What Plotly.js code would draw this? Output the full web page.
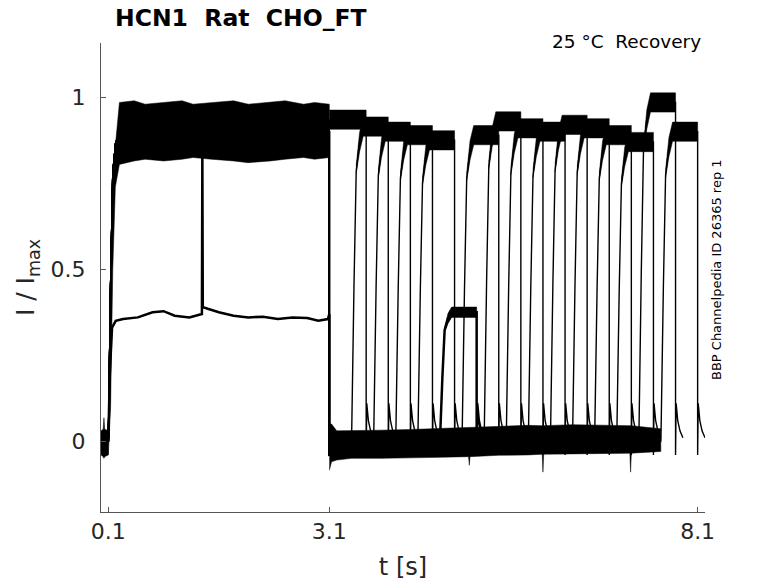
<!DOCTYPE html>
<html>
<head>
<meta charset="utf-8">
<script src="https://cdn.plot.ly/plotly-3.0.1.min.js"></script>
<style>
  html, body { margin: 0; padding: 0; background: #fff; }
  #plot { width: 778px; height: 583px; }
</style>
</head>
<body>
<div id="plot"></div>
<script>
// recovery protocol: 16 sweeps, 3 s activation pulse, then a 0.5 s test pulse at growing intervals
var sweepStart = [3.1, 3.4, 3.7, 4.0, 4.3, 4.6, 4.9, 5.2, 5.5, 5.8, 6.1, 6.4, 6.7, 7.0, 7.3, 7.6];
var sweepEnd   = [3.6, 3.9, 4.2, 4.5, 4.8, 5.1, 5.4, 5.7, 6.0, 6.3, 6.6, 6.9, 7.2, 7.5, 7.8, 8.1];
var testLevel  = [0.935, 0.915, 0.9, 0.89, 0.875, 0.375, 0.89, 0.93, 0.91, 0.9, 0.92, 0.91, 0.89, 0.87, 0.985, 0.9];
var testSpread = [0.028, 0.028, 0.028, 0.028, 0.028, 0.015, 0.028, 0.028, 0.028, 0.028, 0.028, 0.028, 0.028, 0.028, 0.028, 0.028];
var lowSweep = 5;

// activation pulse, mean path of the normal sweeps
var activationT = [0, 0.1, 0.13, 0.16, 0.2, 0.3, 3.1];
var activationY = [0, 0, 0.45, 0.78, 0.87, 0.9, 0.9];

// the sweep that only reached ~0.36
var lowSweepT = [0, 0.1, 0.12, 0.15, 0.2, 0.3, 0.5, 0.7, 0.85, 1.0, 1.2, 1.37, 1.376, 1.382, 1.45, 1.6, 1.8, 2.0, 2.2, 2.4, 2.6, 2.8, 2.95, 3.08, 3.1];
var lowSweepY = [0, 0.01, 0.2, 0.33, 0.35, 0.355, 0.36, 0.375, 0.378, 0.365, 0.36, 0.37, 0.84, 0.39, 0.385, 0.375, 0.365, 0.36, 0.362, 0.355, 0.36, 0.358, 0.35, 0.355, 0.37];

// shape of a test-pulse rise and of the tail after it
var riseDt   = [0, 0.005, 0.035, 0.065, 0.11, 0.16, 0.3];
var riseFrac = [0, 0.05, 0.5, 0.86, 0.95, 0.98, 1.0];
var tailDt = [0, 0.008, 0.03, 0.06, 0.1];
var tailY  = [-0.04, 0.11, 0.06, 0.03, 0.01];

// noise envelopes
var baseT  = [0, 0.03, 0.04, 0.05, 0.1];
var baseHi = [0.03, 0.035, 0.068, 0.035, 0.03];
var baseLo = [-0.04, -0.045, -0.05, -0.045, -0.04];

var pulseT  = [0.1, 0.13, 0.16, 0.195, 0.25, 0.45, 0.6, 0.85, 1.1, 1.25, 1.5, 1.8, 2.0, 2.3, 2.5, 2.75, 2.9, 3.1];
var pulseHi = [0.03, 0.4, 0.72, 0.86, 0.985, 0.99, 0.98, 0.985, 0.99, 0.98, 0.985, 0.99, 0.98, 0.985, 0.99, 0.98, 0.985, 0.98];
var pulseLo = [-0.04, 0.1, 0.5, 0.74, 0.805, 0.815, 0.82, 0.815, 0.82, 0.825, 0.82, 0.815, 0.81, 0.815, 0.82, 0.825, 0.82, 0.825];

var zeroT  = [3.1, 3.13, 3.2, 3.4, 3.8, 4.2, 4.6, 4.99, 5.0, 5.01, 5.4, 5.8, 5.99, 6.0, 6.01, 6.4, 6.8, 7.18, 7.19, 7.2, 7.6];
var zeroHi = [0.05, 0.05, 0.03, 0.03, 0.032, 0.034, 0.037, 0.04, 0.04, 0.04, 0.043, 0.046, 0.045, 0.045, 0.045, 0.048, 0.047, 0.045, 0.045, 0.045, 0.036];
var zeroLo = [-0.085, -0.06, -0.055, -0.05, -0.05, -0.049, -0.047, -0.045, -0.07, -0.045, -0.041, -0.04, -0.038, -0.09, -0.038, -0.037, -0.035, -0.035, -0.09, -0.035, -0.03];

var xTicks = [0.1, 3.1, 8.1];
var yTicks = [0, 0.5, 1];

function band(xs, hi, lo) {
  return {
    x: xs.concat(xs.slice().reverse()),
    y: hi.concat(lo.slice().reverse()),
    type: 'scatter', mode: 'lines', fill: 'toself',
    fillcolor: '#000', line: {color: '#000', width: 0.5},
    hoverinfo: 'skip', showlegend: false
  };
}

function sweepPath(k) {
  var x = k === lowSweep ? lowSweepT.slice() : activationT.slice();
  var y = k === lowSweep ? lowSweepY.slice() : activationY.slice();
  var s = sweepStart[k], e = sweepEnd[k], L = testLevel[k];
  if (s > 3.1) {
    x.push(3.1, s); y.push(-0.04, 0);
    riseDt.forEach(function (d, i) { x.push(s + d); y.push(L * riseFrac[i]); });
  } else {
    x.push(s); y.push(L);
  }
  x.push(e); y.push(L);
  tailDt.forEach(function (d, i) { x.push(e + d); y.push(tailY[i]); });
  return {
    x: x, y: y, type: 'scatter', mode: 'lines',
    line: {color: '#000', width: k === lowSweep ? 2.5 : 1.4},
    hoverinfo: 'skip', showlegend: false
  };
}

var data = [band(baseT, baseHi, baseLo), band(pulseT, pulseHi, pulseLo), band(zeroT, zeroHi, zeroLo)];
sweepStart.forEach(function (s, k) {
  var L = testLevel[k], h = testSpread[k], e = sweepEnd[k];
  if (s > 3.1) {
    // noise band follows the top of the rise, then the plateau
    data.push(band([s + 0.065, s + 0.11, s + 0.16, e],
      [L * riseFrac[3] + h * 0.5, L * riseFrac[4] + h, L + h, L + h],
      [L * riseFrac[3] - h * 0.3, L * riseFrac[4] - h, L - h, L - h]));
  } else {
    data.push(band([s, e], [L + h, L + h], [L - h, L - h]));
  }
});
sweepStart.forEach(function (s, k) { data.push(sweepPath(k)); });

var font = 'DejaVu Sans, sans-serif';
var layout = {
  width: 778, height: 583,
  margin: {l: 101, r: 73, t: 43, b: 71},
  paper_bgcolor: '#fff', plot_bgcolor: '#fff',
  showlegend: false,
  title: {
    text: '<b>HCN1\u00a0\u00a0Rat\u00a0\u00a0CHO_FT</b>',
    font: {family: font, size: 23.5, color: '#000'},
    xref: 'container', x: 115 / 778, xanchor: 'left',
    yref: 'container', y: 1 - 18 / 583, yanchor: 'middle'
  },
  xaxis: {
    range: [0, 8.2], tickvals: xTicks, ticktext: xTicks.map(String),
    ticks: 'inside', ticklen: 5, tickcolor: '#555',
    showline: true, linecolor: '#555', linewidth: 1,
    showgrid: false, zeroline: false,
    tickfont: {family: font, size: 22, color: '#262626'},
    title: {text: 't [s]', font: {family: font, size: 24, color: '#262626'}, standoff: 14}
  },
  yaxis: {
    range: [-0.206, 1.158], tickvals: yTicks, ticktext: ['0', '0.5', '1'],
    ticks: 'inside', ticklen: 5, tickcolor: '#555',
    showline: true, linecolor: '#555', linewidth: 1,
    showgrid: false, zeroline: false,
    ticklabelstandoff: 10,
    tickfont: {family: font, size: 22, color: '#262626'},
    title: {text: 'I / I<sub>max</sub>', font: {family: font, size: 25, color: '#262626'}, standoff: 8}
  },
  annotations: [
    {
      text: '25 °C\u00a0\u00a0Recovery', xref: 'paper', yref: 'paper',
      x: (703 - 101) / 604, y: 1.004, xanchor: 'right', yanchor: 'middle',
      showarrow: false, font: {family: font, size: 18.5, color: '#000'}
    },
    {
      text: 'BBP Channelpedia ID 26365 rep 1', xref: 'paper', yref: 'paper',
      x: (716 - 101) / 604, y: (512 - 270) / 469, xanchor: 'center', yanchor: 'middle',
      textangle: -90, showarrow: false, font: {family: font, size: 13, color: '#000'}
    }
  ]
};

Plotly.newPlot('plot', data, layout, {staticPlot: true});
</script>
</body>
</html>
